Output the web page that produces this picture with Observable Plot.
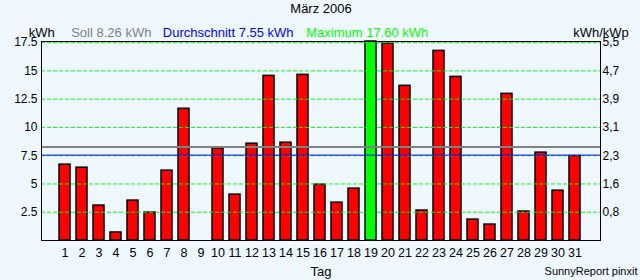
<!DOCTYPE html>
<html>
<head>
<meta charset="utf-8">
<script src="https://cdn.jsdelivr.net/npm/d3@7"></script>
<script src="https://cdn.jsdelivr.net/npm/@observablehq/plot@0.6"></script>
<style>
  html, body { margin: 0; padding: 0; background: #F0F8FF; }
  #chart svg { display: block; }
</style>
</head>
<body>
<div id="chart"></div>
<script>
const title = "März 2006";
const days = [1,2,3,4,5,6,7,8,9,10,11,12,13,14,15,16,17,18,19,20,21,22,23,24,25,26,27,28,29,30,31];
const kwh = [6.71,6.44,3.09,0.71,3.53,2.47,6.18,11.65,0,8.12,4.06,8.56,14.56,8.65,14.65,4.94,3.35,4.59,17.60,17.41,13.68,2.65,16.77,14.47,1.85,1.41,12.97,2.56,7.77,4.41,7.47];
const soll = 8.26;
const average = 7.55;
const maximum = 17.60;
const yTicks = [2.5, 5, 7.5, 10, 12.5, 15, 17.5];
const yTickLabels = ["2.5", "5", "7.5", "10", "12.5", "15", "17.5"];
const rightTickLabels = ["0,8", "1,6", "2,3", "3,1", "3,9", "4,7", "5,5"];
const leftUnit = "kWh";
const rightUnit = "kWh/kWp";
const xLabel = "Tag";
const credit = "SunnyReport pinxit";

const rows = days.map((d, i) => ({day: d, value: kwh[i]}));
const font = "'Liberation Sans', Arial, sans-serif";
const txt = {text: d => d, lineAnchor: "middle"};

const chart = Plot.plot({
  width: 640,
  height: 280,
  marginLeft: 41,
  marginRight: 40,
  marginTop: 41,
  marginBottom: 40,
  style: {background: "#F0F8FF", fontFamily: font, fontSize: "12px", color: "black"},
  x: {type: "band", domain: days, range: [39.3, 599.6], padding: 0.34, label: null},
  y: {domain: [0, maximum], label: null},
  marks: [
    Plot.barY(rows, {
      x: "day", y: "value",
      fill: d => d.value === maximum ? "#00FF00" : "#FF0000",
      stroke: "black", strokeWidth: 1.5
    }),
    Plot.ruleY(yTicks, {stroke: "#00FF00", strokeDasharray: "4,2"}),
    Plot.ruleY([soll], {stroke: "#808080", strokeWidth: 2}),
    Plot.ruleY([average], {stroke: "#0000FF", strokeWidth: 1}),
    Plot.frame({stroke: "black"}),
    Plot.axisY({ticks: yTicks, tickSize: 0, tickPadding: 4, tickFormat: d => yTickLabels[yTicks.indexOf(d)], label: null, fontSize: 12}),
    Plot.axisY({anchor: "right", ticks: yTicks, tickSize: 0, tickPadding: 2, tickFormat: d => rightTickLabels[yTicks.indexOf(d)], label: null, fontSize: 12}),
    Plot.axisX({tickSize: 0, tickPadding: 8, label: null, fontSize: 12.5}),
    Plot.text([title], {...txt, frameAnchor: "top", dy: -33, fontSize: 13, fill: "black"}),
    Plot.text([leftUnit], {...txt, frameAnchor: "top-left", textAnchor: "start", dx: -12.7, dy: -9, fontSize: 13, fill: "black"}),
    Plot.text([`Soll ${soll.toFixed(2)} kWh`], {...txt, frameAnchor: "top-left", textAnchor: "start", dx: 29.7, dy: -9, fontSize: 13, fill: "#808080"}),
    Plot.text([`Durchschnitt ${average.toFixed(2)} kWh`], {...txt, frameAnchor: "top-left", textAnchor: "start", dx: 121.3, dy: -9, fontSize: 13, fill: "#0000FF"}),
    Plot.text([`Maximum ${maximum.toFixed(2)} kWh`], {...txt, frameAnchor: "top-left", textAnchor: "start", dx: 264.7, dy: -9, fontSize: 13, fill: "#00FF00"}),
    Plot.text([rightUnit], {...txt, frameAnchor: "top-right", textAnchor: "end", dx: 28.3, dy: -9, fontSize: 13, fill: "black"}),
    Plot.text([xLabel], {...txt, frameAnchor: "bottom", dy: 31, fontSize: 13, fill: "black"}),
    Plot.text([credit], {...txt, frameAnchor: "bottom-right", textAnchor: "end", dx: 37, dy: 31, fontSize: 11, fill: "black"})
  ]
});
document.getElementById("chart").append(chart);
</script>
</body>
</html>
